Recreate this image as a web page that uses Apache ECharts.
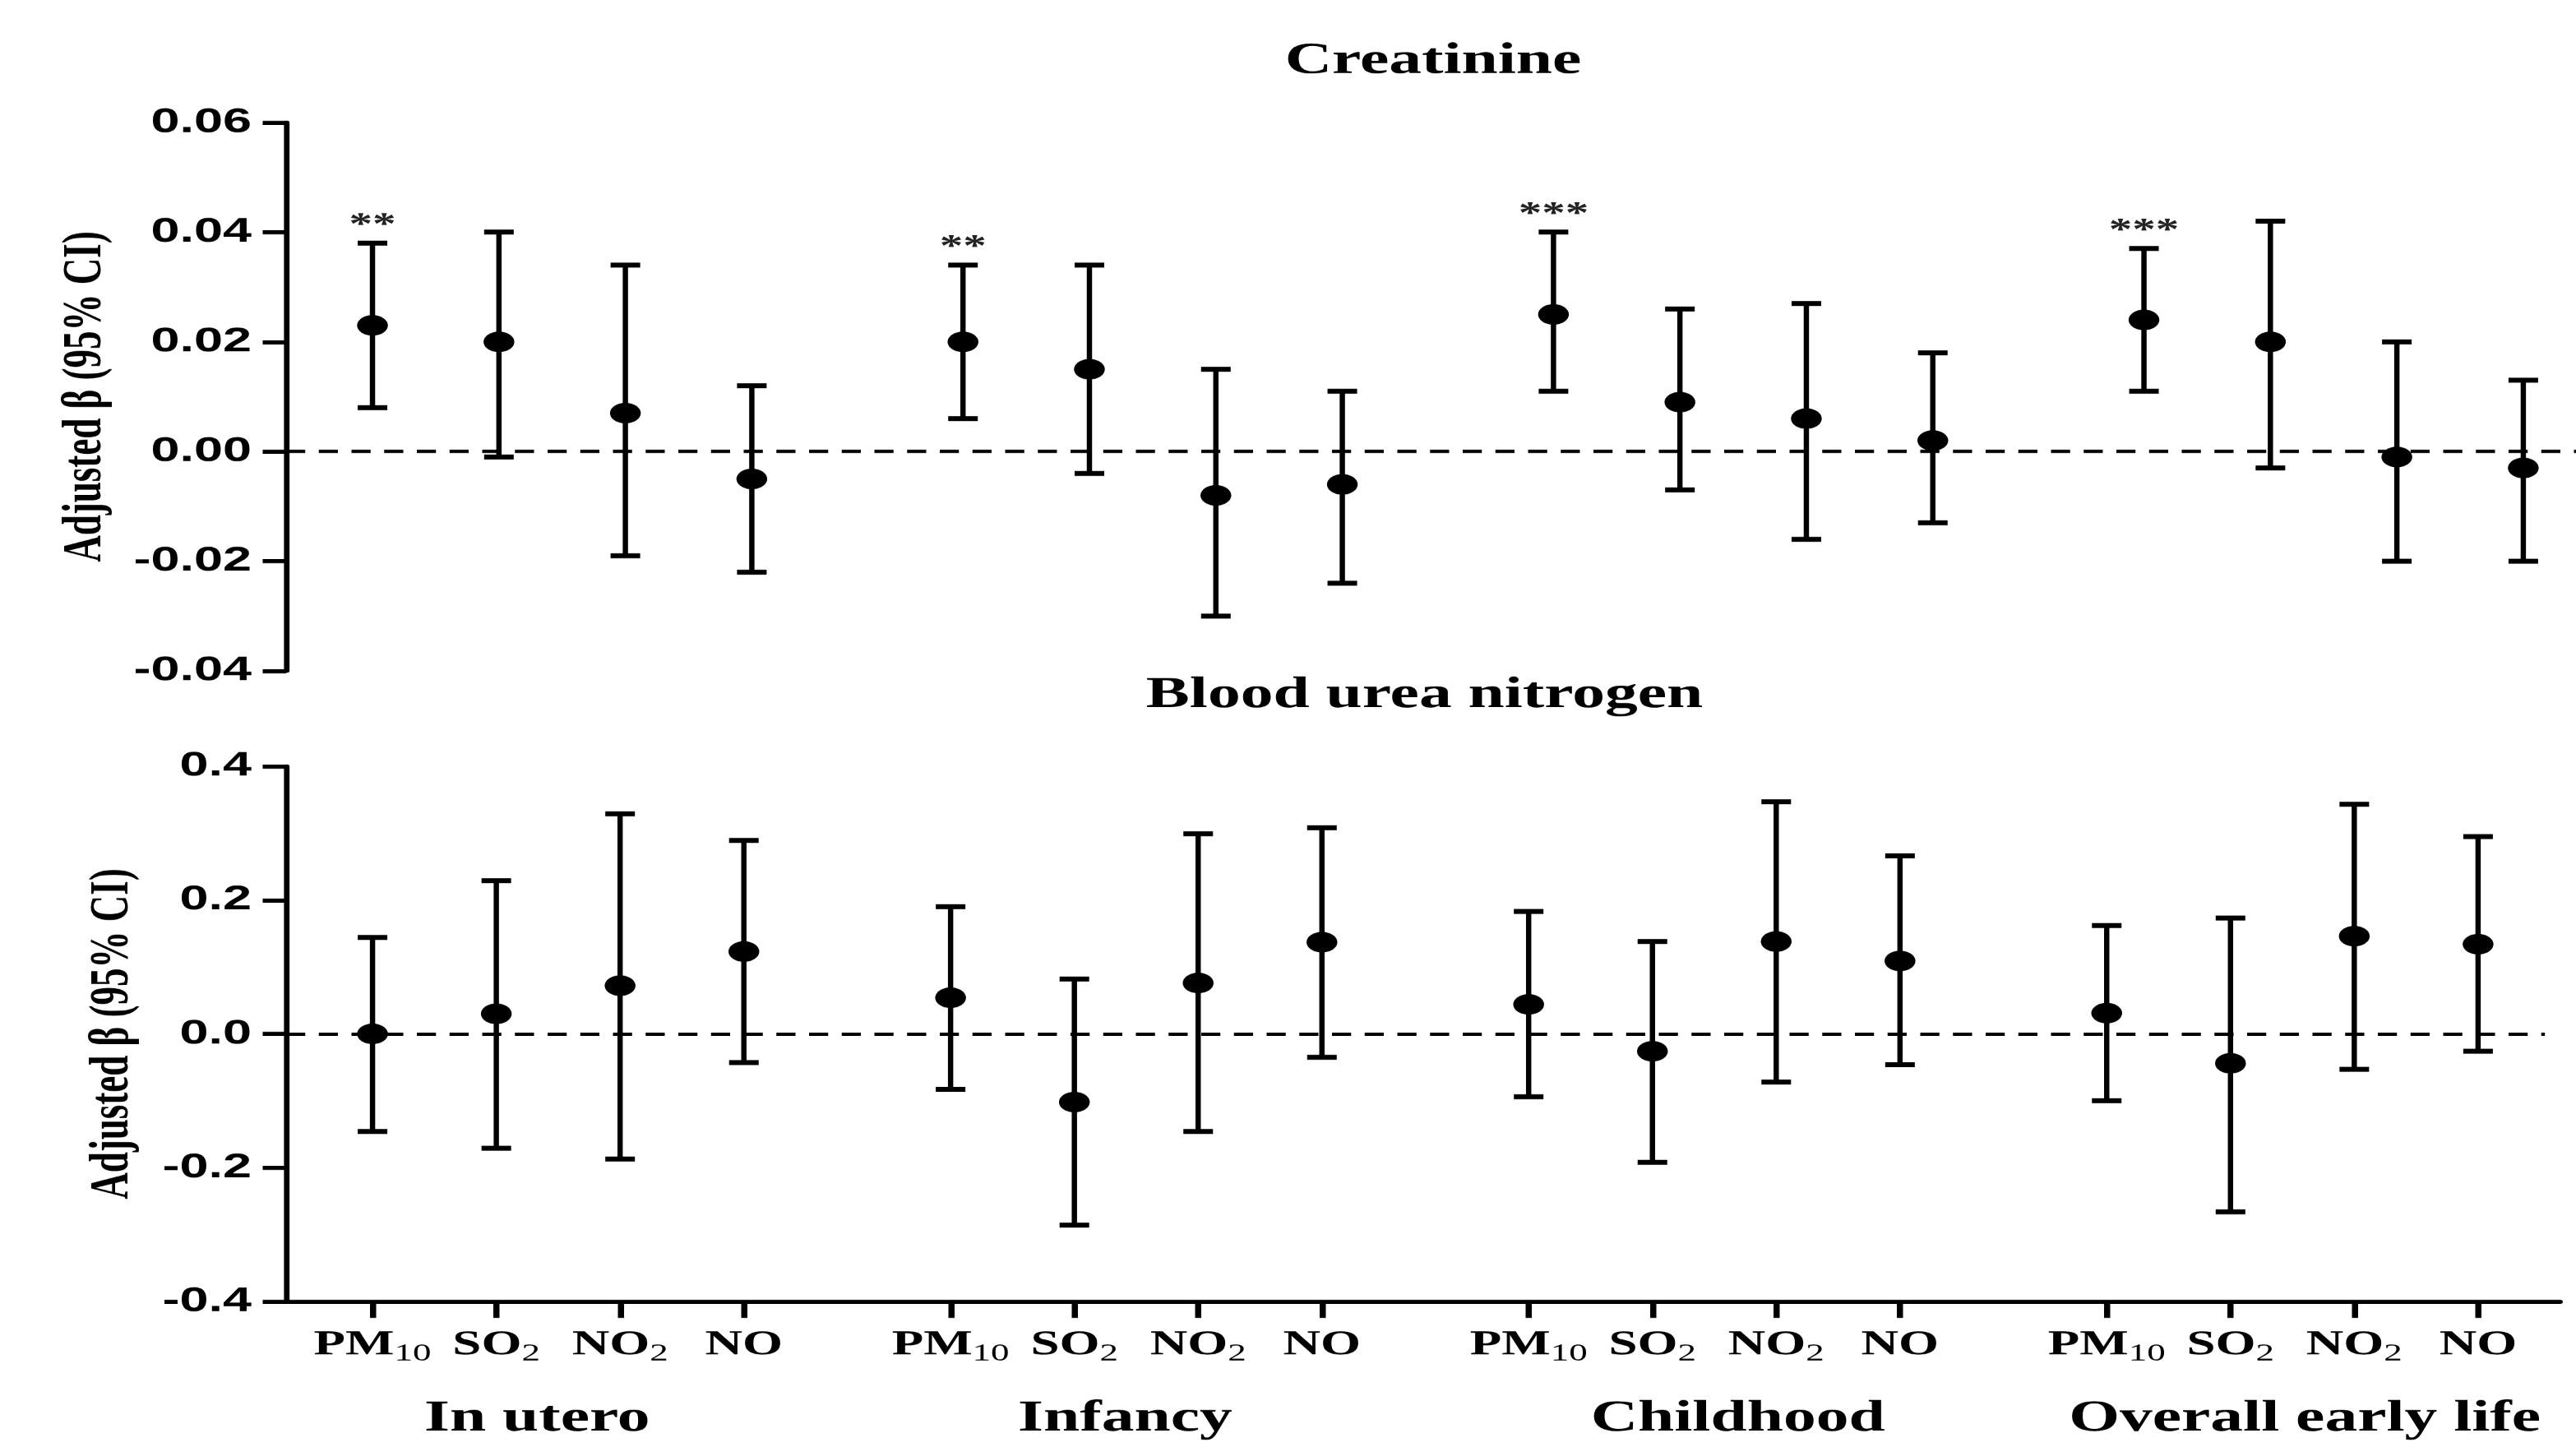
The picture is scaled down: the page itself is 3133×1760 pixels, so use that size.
<!DOCTYPE html>
<html>
<head>
<meta charset="utf-8">
<script src="https://cdn.jsdelivr.net/npm/echarts@6/dist/echarts.min.js"></script>
<style>
html,body{margin:0;padding:0;background:#fff;overflow:hidden;}
#wrap{width:3133px;height:1760px;overflow:hidden;position:relative;background:#fff;}
#chart{width:2089px;height:1760px;transform:scaleX(1.49976);transform-origin:0 0;}
</style>
</head>
<body>
<div id="wrap"><div id="chart"></div></div>
<script>
// ---------------- data ----------------
const PERIODS = ['In utero', 'Infancy', 'Childhood', 'Overall early life'];
const POLLUTANTS = ['PM10', 'SO2', 'NO2', 'NO'];

const CREA_EST   = [0.023, 0.020, 0.007, -0.005,  0.020, 0.015, -0.008, -0.006,  0.025, 0.009, 0.006, 0.002,  0.024, 0.020, -0.001, -0.003];
const CREA_LOWER = [0.008, -0.001, -0.019, -0.022, 0.006, -0.004, -0.030, -0.024, 0.011, -0.007, -0.016, -0.013, 0.011, -0.003, -0.020, -0.020];
const CREA_UPPER = [0.038, 0.040, 0.034, 0.012,   0.034, 0.034, 0.015, 0.011,    0.040, 0.026, 0.027, 0.018,  0.037, 0.042, 0.020, 0.013];
const CREA_SIG   = ['**', '', '', '',  '**', '', '', '',  '***', '', '', '',  '***', '', '', ''];

const BUN_EST   = [0.000, 0.030, 0.072, 0.123,   0.054, -0.102, 0.076, 0.137,   0.044, -0.026, 0.138, 0.109,   0.031, -0.044, 0.146, 0.134];
const BUN_LOWER = [-0.146, -0.171, -0.187, -0.043, -0.083, -0.286, -0.146, -0.035, -0.094, -0.192, -0.072, -0.046, -0.100, -0.266, -0.053, -0.026];
const BUN_UPPER = [0.144, 0.229, 0.329, 0.289,   0.190, 0.082, 0.299, 0.308,   0.183, 0.138, 0.347, 0.266,   0.162, 0.173, 0.343, 0.295];
const BUN_SIG   = ['', '', '', '', '', '', '', '', '', '', '', '', '', '', '', ''];

const CREA_TICKS = {min: -0.04, max: 0.06, interval: 0.02, digits: 2};
const BUN_TICKS  = {min: -0.4, max: 0.4, interval: 0.2, digits: 1};

// ---------------- layout ----------------
const GROUP_STEP = 4.67;                 // distance between groups in slot units
const TOP_X = {min: -0.683, max: 17.43};   // top panel runs to the right edge
const BOT_X = {min: -0.698, max: 17.67};   // bottom panel is slightly narrower per slot
const BOT_ZERO_END = 17.55;
const GROUP_LABEL_NUDGE = [-0.17, -0.09, 0.19, 0.1];
const SERIF = '"Liberation Serif", "Times New Roman", serif';
const SANS = '"Liberation Sans", Arial, sans-serif';

const xPos = [];
PERIODS.forEach((p, g) => POLLUTANTS.forEach((q, i) => xPos.push(g * GROUP_STEP + i)));
const groupPos = PERIODS.map((p, g) => g * GROUP_STEP + 1.5 + GROUP_LABEL_NUDGE[g]);

function nearest(arr, v) {
  let best = 0;
  arr.forEach((a, k) => { if (Math.abs(a - v) < Math.abs(arr[best] - v)) best = k; });
  return best;
}

function pollutantLabel(v) {
  const name = POLLUTANTS[nearest(xPos, v) % POLLUTANTS.length];
  const m = name.match(/^([A-Z]+)(\d*)$/);
  return m[2] ? '{m|' + m[1] + '}{s|' + m[2] + '}' : '{m|' + m[1] + '}';
}

function errorSeries(xIdx, yIdx, est, lo, hi, sig) {
  return {
    type: 'custom',
    xAxisIndex: xIdx, yAxisIndex: yIdx,
    data: xPos.map((x, k) => [x, est[k], lo[k], hi[k]]),
    encode: {x: 0, y: [1, 2, 3]},
    z: 3,
    silent: true,
    renderItem: function (params, api) {
      const x = api.value(0);
      const pLo = api.coord([x, api.value(2)]);
      const pHi = api.coord([x, api.value(3)]);
      const cap = 12;
      const children = [
        {type: 'line', shape: {x1: pLo[0], y1: pLo[1], x2: pHi[0], y2: pHi[1]}, style: {stroke: '#000', lineWidth: 4.3}},
        {type: 'line', shape: {x1: pLo[0] - cap, y1: pLo[1], x2: pLo[0] + cap, y2: pLo[1]}, style: {stroke: '#000', lineWidth: 6}},
        {type: 'line', shape: {x1: pHi[0] - cap, y1: pHi[1], x2: pHi[0] + cap, y2: pHi[1]}, style: {stroke: '#000', lineWidth: 6}}
      ];
      const s = sig[params.dataIndex];
      if (s) {
        children.push({
          type: 'text', x: pHi[0], y: pHi[1] - 21,
          style: {text: s, fill: '#222', font: 'bold 38px ' + SERIF, align: 'center', verticalAlign: 'middle'}
        });
      }
      return {type: 'group', children: children};
    }
  };
}

function pointSeries(xIdx, yIdx, est, zeroLine) {
  return {
    type: 'scatter',
    xAxisIndex: xIdx, yAxisIndex: yIdx,
    data: xPos.map((x, k) => [x, est[k]]),
    symbol: 'circle', symbolSize: 25,
    itemStyle: {color: '#000', opacity: 1},
    z: 4,
    silent: true,
    markLine: {
      silent: true, symbol: 'none', animation: false,
      label: {show: false},
      lineStyle: {color: '#000', width: 4, type: [15.5, 11]},
      data: [zeroLine]
    }
  };
}

function yAxisDef(gridIndex, t, nameGap) {
  return {
    type: 'value', gridIndex: gridIndex,
    min: t.min, max: t.max, interval: t.interval,
    name: 'Adjusted β (95% CI)', nameLocation: 'middle', nameRotate: 90, nameGap: nameGap,
    nameTextStyle: {fontFamily: SERIF, fontWeight: 'bold', fontSize: 45, color: '#000'},
    axisLine: {show: true, onZero: false, lineStyle: {color: '#000', width: 4.5}},
    axisTick: {show: true, length: 19, lineStyle: {color: '#000', width: 5}},
    axisLabel: {
      margin: 28, color: '#000', fontFamily: SANS, fontWeight: 'bold', fontSize: 42,
      formatter: v => (Math.abs(v) < 1e-9 ? 0 : v).toFixed(t.digits)
    },
    splitLine: {show: false}
  };
}

const GRID_LEFT = 232;

const option = {
  backgroundColor: '#fff',
  animation: false,
  grid: [
    {left: GRID_LEFT, top: 149, right: 0, height: 667},
    {left: GRID_LEFT, top: 932, width: 1843.5, height: 651}
  ],
  xAxis: [
    {type: 'value', gridIndex: 0, min: TOP_X.min, max: TOP_X.max, show: false, splitLine: {show: false}},
    {
      type: 'value', gridIndex: 1, min: BOT_X.min, max: BOT_X.max, position: 'bottom',
      axisLine: {show: true, onZero: false, lineStyle: {color: '#000', width: 5}},
      axisTick: {show: true, customValues: xPos, length: 20, lineStyle: {color: '#000', width: 5}},
      axisLabel: {
        customValues: xPos, margin: 28, formatter: pollutantLabel,
        rich: {
          m: {fontFamily: SERIF, fontWeight: 'bold', fontSize: 42, lineHeight: 51, color: '#000'},
          s: {fontFamily: SERIF, fontWeight: 'normal', fontSize: 30, lineHeight: 30, verticalAlign: 'bottom', color: '#000'}
        }
      },
      splitLine: {show: false}
    },
    {
      type: 'value', gridIndex: 1, min: BOT_X.min, max: BOT_X.max, position: 'bottom', offset: 0,
      axisLine: {show: false}, axisTick: {show: false},
      axisLabel: {
        customValues: groupPos, margin: 117,
        formatter: v => PERIODS[nearest(groupPos, v)],
        fontFamily: SERIF, fontWeight: 'bold', fontSize: 53, color: '#000'
      },
      splitLine: {show: false}
    }
  ],
  yAxis: [yAxisDef(0, CREA_TICKS, 140), yAxisDef(1, BUN_TICKS, 118)],
  graphic: [
    {type: 'text', x: 1162, y: 75, silent: true,
     style: {text: 'Creatinine', fill: '#000', font: 'bold 53px ' + SERIF, align: 'center', verticalAlign: 'middle'}},
    {type: 'text', x: 1155, y: 846, silent: true,
     style: {text: 'Blood urea nitrogen', fill: '#000', font: 'bold 53px ' + SERIF, align: 'center', verticalAlign: 'middle'}}
  ],
  series: [
    errorSeries(0, 0, CREA_EST, CREA_LOWER, CREA_UPPER, CREA_SIG),
    pointSeries(0, 0, CREA_EST, {yAxis: 0}),
    errorSeries(1, 1, BUN_EST, BUN_LOWER, BUN_UPPER, BUN_SIG),
    pointSeries(1, 1, BUN_EST, [{coord: [BOT_X.min, 0]}, {coord: [BOT_ZERO_END, 0]}])
  ]
};

const chart = echarts.init(document.getElementById('chart'), null, {renderer: 'canvas', devicePixelRatio: 1.5});
chart.setOption(option);
</script>
</body>
</html>
